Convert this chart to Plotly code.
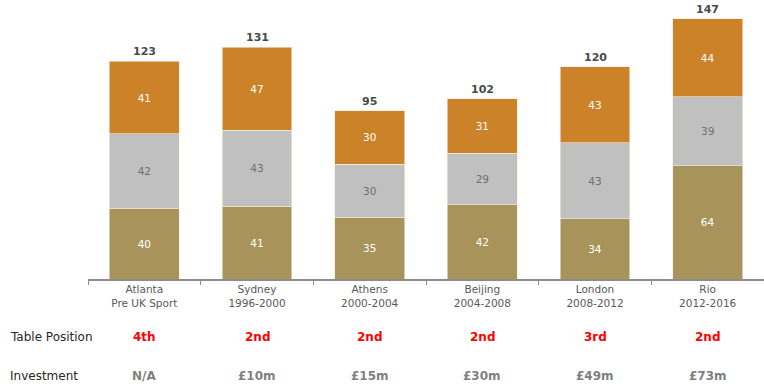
import plotly.graph_objects as go

categories = ["Atlanta<br>Pre UK Sport", "Sydney<br>1996-2000", "Athens<br>2000-2004",
              "Beijing<br>2004-2008", "London<br>2008-2012", "Rio<br>2012-2016"]
gold = [40, 41, 35, 42, 34, 64]
silver = [42, 43, 30, 29, 43, 39]
bronze = [41, 47, 30, 31, 43, 44]
totals = [123, 131, 95, 102, 120, 147]
table_position = ["4th", "2nd", "2nd", "2nd", "3rd", "2nd"]
investment = ["N/A", "£10m", "£15m", "£30m", "£49m", "£73m"]

FONT = "DejaVu Sans"
fig = go.Figure()
series = [
    (gold, "#A8945A", "white"),
    (silver, "#C0C0C0", "#6f6f6f"),
    (bronze, "#CC8228", "white"),
]
for vals, col, tcol in series:
    fig.add_trace(go.Bar(
        x=categories, y=vals, marker=dict(color=col, line=dict(color="#f4ecdc", width=0.6)),
        text=[str(v) for v in vals], textposition="inside", insidetextanchor="middle",
        textfont=dict(family=FONT, size=10.5, color=tcol), constraintext="none",
        showlegend=False, hoverinfo="skip",
    ))

for c, t in zip(categories, totals):
    fig.add_annotation(x=c, y=t, xref="x", yref="y", text=f"<b>{t}</b>", showarrow=False,
                       yanchor="bottom", yshift=1,
                       font=dict(family=FONT, size=11, color="#4a4a4a"))

for c, p in zip(categories, table_position):
    fig.add_annotation(x=c, y=-0.208, xref="x", yref="paper", text=f"<b>{p}</b>", showarrow=False,
                       yanchor="middle", font=dict(family=FONT, size=12, color="#FF0000"))
for c, p in zip(categories, investment):
    fig.add_annotation(x=c, y=-0.348, xref="x", yref="paper", text=f"<b>{p}</b>", showarrow=False,
                       yanchor="middle", font=dict(family=FONT, size=12, color="#808080"))

row_x = (8 - 88) / 676
fig.add_annotation(x=row_x, y=-0.208, xref="paper", yref="paper", text="Table Position", showarrow=False,
                   xanchor="left", yanchor="middle", font=dict(family=FONT, size=12, color="#262626"))
fig.add_annotation(x=row_x, y=-0.348, xref="paper", yref="paper", text="Investment", showarrow=False,
                   xanchor="left", yanchor="middle", font=dict(family=FONT, size=12, color="#262626"))

fig.update_layout(
    barmode="stack", bargap=0.38,
    width=764, height=388,
    margin=dict(l=88, r=0, t=0, b=109),
    plot_bgcolor="white", paper_bgcolor="white",
    xaxis=dict(showline=True, linecolor="#8c8c8c", linewidth=1.5, ticks="outside",
               tickson="boundaries", ticklen=4, tickcolor="#8c8c8c", tickwidth=1,
               tickfont=dict(family=FONT, size=10.5, color="#595959"), range=[-0.5, 5.5]),
    yaxis=dict(visible=False, range=[0, 157.7], showgrid=False),
)
fig.write_html("out.html")
